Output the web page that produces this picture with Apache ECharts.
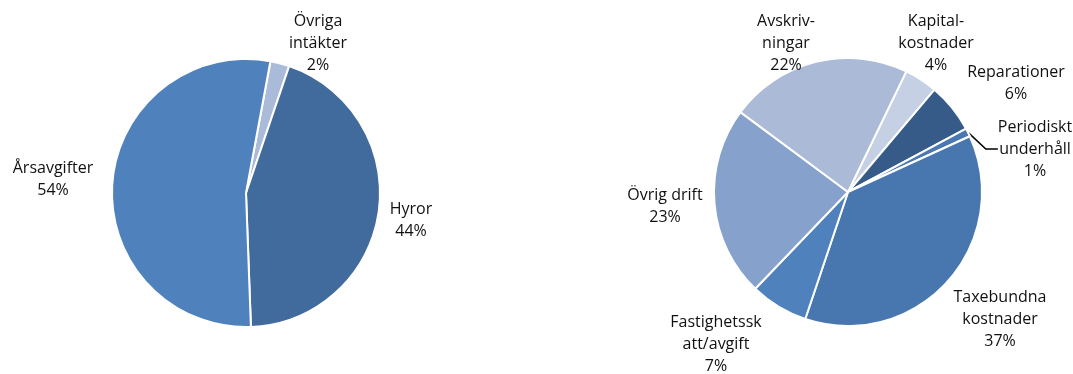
<!DOCTYPE html>
<html>
<head>
<meta charset="utf-8">
<script src="https://cdn.jsdelivr.net/npm/echarts@6/dist/echarts.min.js"></script>
<style>
  html, body { margin: 0; padding: 0; background: #fff; }
  #chart { width: 1073px; height: 374px; }
</style>
</head>
<body>
<div id="chart"></div>
<script>
// intäkter (vänster)
var incomeNames = ['Övriga\nintäkter', 'Hyror', 'Årsavgifter'];
var incomeValues = [2.3, 44.2, 53.5];
var incomeColors = ['#aabbd9', '#416b9c', '#4f81bd'];

// kostnader (höger)
var costNames = ['Kapital-\nkostnader', 'Reparationer', 'Periodiskt\nunderhåll', 'Taxebundna\nkostnader',
  'Fastighetssk\natt/avgift', 'Övrig drift', 'Avskriv-\nningar'];
var costValues = [4, 6, 1, 37, 7, 23, 22];
var costColors = ['#c6d0e5', '#375b88', '#4a78b1', '#4877b0', '#4f81bd', '#86a1cb', '#aabad7'];

// label anchors (text block centres)
var incomeLabelPos = [[318, 43], [411, 220], [53, 179]];
var costLabelPos = [[936, 43], [1016, 83], [1035, 149], [1000, 319], [716, 344], [665, 206], [786, 43]];

var chart = echarts.init(document.getElementById('chart'));

function makeData(names, values, colors) {
  return names.map(function (n, i) {
    return { name: n, value: values[i], itemStyle: { color: colors[i] } };
  });
}

var labelStyle = {
  show: true,
  position: 'outside',
  formatter: function (p) { return p.name + '\n' + Math.round(p.value) + '%'; },
  color: '#111',
  fontFamily: 'Open Sans',
  fontSize: 16,
  lineHeight: 22,
  align: 'center',
  overflow: 'none'
};

var option = {
  animation: false,
  series: [
    {
      type: 'pie',
      center: [246, 193],
      radius: [0, 134],
      startAngle: 79.5,
      clockwise: true,
      itemStyle: { borderColor: '#fff', borderWidth: 2 },
      label: labelStyle,
      labelLine: { show: false },
      labelLayout: function (p) {
        var pos = incomeLabelPos[p.dataIndex];
        return { x: pos[0], y: pos[1], align: 'center', verticalAlign: 'middle' };
      },
      data: makeData(incomeNames, incomeValues, incomeColors)
    },
    {
      type: 'pie',
      center: [848, 192],
      radius: [0, 134],
      startAngle: 64.2,
      clockwise: true,
      itemStyle: { borderColor: '#fff', borderWidth: 2 },
      label: labelStyle,
      labelLine: { show: false, lineStyle: { color: '#000', width: 1.5 } },
      labelLayout: function (p) {
        var pos = costLabelPos[p.dataIndex];
        return { x: pos[0], y: pos[1], align: 'center', verticalAlign: 'middle' };
      },
      data: makeData(costNames, costValues, costColors).map(function (d, i) {
        if (i === 2) {
          d.labelLine = { show: true, length: 4, length2: 12 };
        }
        return d;
      })
    }
  ]
};
chart.setOption(option);
</script>
</body>
</html>
